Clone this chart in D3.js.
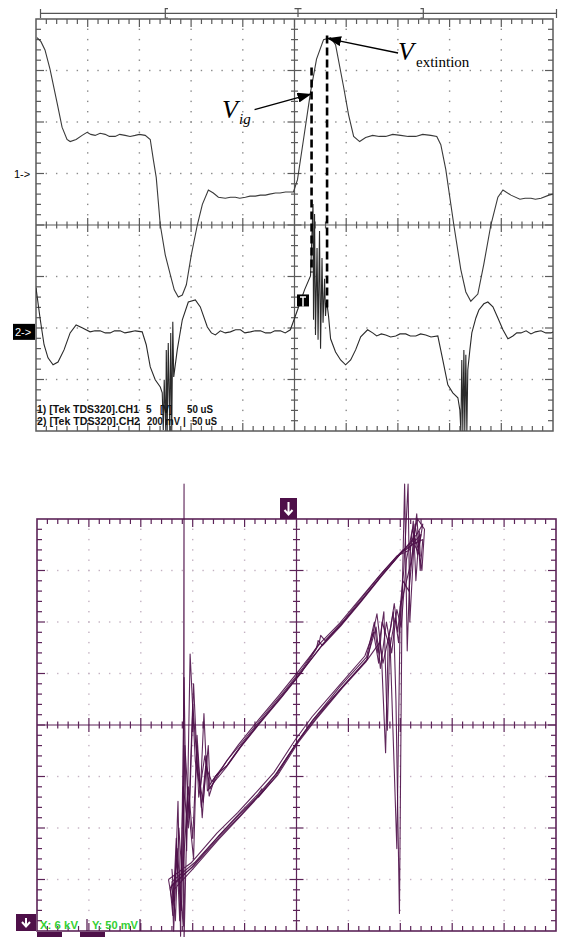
<!DOCTYPE html>
<html><head><meta charset="utf-8">
<script src="https://cdn.jsdelivr.net/npm/d3@7"></script>
<style>body{margin:0;background:#fff;}svg{display:block;}</style>
</head><body>
<svg id="c" width="563" height="937"></svg>
<script>
// ---------------- DATA ----------------
// Top scope: time in µs (50 µs/div), CH1 in V (5 V/div), CH2 in mV (200 mV/div)
const timeDomain = [0, 500];
const ch1Domain = [-25, 15];
const ch2Domain = [-385, 1215];
const ch1Trace = [[1,13.2],[4.8,12.8],[8.7,12.0],[13.6,10.1],[20.3,6.9],[25.2,4.5],[30,3.3],[33,3.1],[38.8,3.3],[44.6,3.7],[49.4,4.0],[53,3.8],[57.2,3.7],[62,3.9],[66.9,3.8],[71,3.6],[76.6,3.6],[81,3.8],[86.2,3.7],[91,3.6],[95.9,3.7],[100,3.8],[105.6,3.7],[110.5,3.3],[113.4,1.4],[116.3,-0.4],[120.2,-5.0],[125,-7.9],[129.8,-9.8],[133.7,-11.3],[137.6,-12.0],[141.5,-11.8],[145.4,-10.8],[150.2,-7.9],[156,-5.0],[160.9,-3.0],[166.7,-1.6],[171.5,-1.9],[176.4,-2.3],[183.1,-2.4],[188,-2.3],[192.8,-2.3],[197,-2.4],[202.5,-2.3],[207,-2.2],[212.2,-2.2],[217,-2.1],[221.9,-2.1],[226,-2.0],[231.6,-1.9],[236,-1.9],[241.3,-1.8],[249,-1.8],[252.9,-0.6],[258.7,3.3],[265.5,7.9],[271.3,11.1],[278.1,13.0],[284.9,13.2],[289.7,12.5],[297.5,8.4],[302.3,5.7],[307.2,3.6],[313,3.1],[318.8,3.5],[325.6,3.7],[332,3.6],[338.2,3.6],[345,3.8],[352.7,3.7],[360,3.6],[367.3,3.6],[374,3.8],[381.8,3.7],[387.6,3.6],[391.5,2.8],[396.3,0.4],[404.1,-5.0],[410.8,-9.3],[415.7,-11.5],[420.5,-12.4],[427.3,-11.7],[433.1,-8.8],[439.9,-5.0],[446.7,-2.3],[451.6,-1.6],[459.3,-2.1],[468,-2.5],[473,-2.4],[478.7,-2.4],[483,-2.5],[488.4,-2.4],[496.1,-2.1],[500,-2.0]];
const ch2Trace = [[0,171],[3.9,54],[7.8,-50],[11.6,-101],[16.5,-128],[21.3,-117],[27.1,-70],[33,-4],[38.8,27],[44.6,16],[52.3,0],[57,4],[62,4],[67,-4],[71.7,-4],[76,4],[81.4,4],[86,-4],[91.1,0],[96,4],[102.7,0],[106.6,-50],[110.5,-136],[115.3,-186],[120.2,-214],[122.1,-237],[123.1,-381],[124.0,-186],[125.5,-384],[126.0,-70],[126.9,-384],[127.9,-43],[129.4,-384],[130.3,-4],[131.3,-384],[132.3,39],[133.2,-175],[134.7,-128],[136.6,-70],[141.5,47],[147.3,116],[154.1,124],[158.9,97],[165.7,19],[169.6,-4],[173.5,-12],[178.3,4],[183,-4],[188,0],[193,8],[197.7,8],[202,-4],[207.4,0],[212,4],[217.1,4],[222,-4],[226.7,-4],[231,4],[236.4,4],[241,-4],[246,8],[252.9,85],[259.7,163],[265.5,217],[267.9,497],[268.4,47],[269.4,458],[270.3,-12],[271.8,326],[272.8,-31],[274.2,392],[275.2,-66],[276.6,287],[277.6,35],[279.1,206],[280.0,62],[281.0,124],[282.9,62],[284.9,-27],[289.7,-78],[294.6,-109],[299.4,-128],[304.3,-109],[309.1,-70],[314.0,-19],[320.7,8],[325.6,-4],[329.5,-16],[334,-8],[338.2,-12],[343,-20],[347.9,-16],[352,-8],[357.6,-8],[362,-16],[367.3,-16],[372,-8],[376.9,-12],[382,-20],[388.6,-16],[393.4,-109],[398.3,-206],[403.1,-237],[408.0,-256],[409.9,-303],[410.9,-384],[411.8,-109],[412.8,-384],[413.8,-70],[414.7,-384],[415.7,-89],[416.7,-384],[417.6,-148],[419.6,-70],[421.5,-4],[425.4,54],[428.3,85],[433.1,109],[437.0,116],[441.9,97],[446.7,54],[451.6,8],[456.4,-27],[461.2,-16],[465,-4],[469.0,-4],[474,4],[478.7,-8],[483,0],[488.4,4],[493,-4],[498.1,-4],[500,0]];
// annotation: ignition and extinction instants (µs) and CH1 levels (V)
const igTime = 266.5, extTime = 281.5;
const igSpan = [10.3, -9.6], extSpan = [13.4, -13.0];
const legendTop = ["1) [Tek TDS320].CH1", "5", "[V]", "50 uS", "2) [Tek TDS320].CH2", "200 mV", "|", "50 uS"];

// Bottom XY scope: X in kV (6 kV/div), Y in mV (50 mV/div)
const xyXDomain = [-30, 30];
const xyYDomain = [-200, 200];
const loopA = [[-14.5,-156],[-11.9,-137],[-8.8,-108],[-6.5,-88],[-4.2,-67],[-3.9,-64],[-4.4,-70],[-2.4,-50],[0,-18],[2.0,4],[5.1,35],[8.2,64],[9.3,108],[9.8,72],[10.3,-27],[10.6,82],[11.2,110],[11.5,23],[11.9,-183],[12.2,120],[12.5,234],[12.8,72],[13.2,174],[13.5,198],[13.8,140],[14.2,188],[14.3,164],[13.4,179],[12.0,166],[9.7,143],[7.4,119],[5.1,96],[3.0,77],[2.5,82],[2.3,74],[0.5,50],[-1.8,26],[-4.2,2],[-6.5,-22],[-8.2,-42],[-9.1,-51],[-10.3,-64],[-10.7,11],[-11.1,-64],[-11.7,-35],[-12.3,69],[-12.7,-122],[-13.0,46],[-13.4,-205],[-13.7,-74],[-14.1,-171],[-14.5,-156]];
const loopB = [[-14.2,-160],[-12.0,-140],[-9.0,-111],[-6.2,-86],[-4.0,-66],[-2.2,-49],[0.2,-17],[2.3,6],[5.3,36],[8.0,61],[9.6,80],[10.0,60],[10.9,95],[11.3,118],[11.7,90],[12.4,150],[12.9,234],[13.1,100],[13.7,195],[14.5,150],[14.8,190],[14.0,200],[13.1,170],[11.6,164],[9.5,144],[7.2,121],[5.0,99],[2.8,80],[0.3,53],[-2.0,29],[-4.4,5],[-6.7,-19],[-8.5,-40],[-9.8,-55],[-10.5,-40],[-11.0,-80],[-11.5,-20],[-12.0,-110],[-12.5,-60],[-13.2,-150],[-13.6,-100],[-14.0,-190],[-14.4,-140],[-14.2,-160]];
const loopC = [[-14.8,-150],[-12.2,-134],[-9.2,-105],[-6.8,-85],[-4.5,-64],[-2.6,-46],[-0.2,-15],[1.8,8],[4.9,38],[7.9,67],[8.9,90],[9.5,60],[9.9,100],[10.8,75],[11.4,104],[11.8,80],[12.3,140],[13.0,130],[13.6,185],[14.0,165],[14.4,185],[13.0,172],[12.2,168],[9.9,146],[7.6,122],[5.3,99],[3.2,80],[0.7,53],[-1.6,29],[-4.0,5],[-6.3,-19],[-8.0,-39],[-9.4,-50],[-10.1,-69],[-10.4,-30],[-10.9,-90],[-11.5,-10],[-11.9,-130],[-12.6,-70],[-13.0,-210],[-13.0,234],[-13.1,-195],[-13.8,-120],[-14.3,-175],[-14.8,-150]];
const loopD = [[-14.4,-152],[-11.7,-133],[-8.6,-104],[-6.4,-84],[-4.3,-66],[-4.0,-62],[-4.6,-69],[-2.3,-47],[0.1,-16],[2.1,7],[5.0,37],[8.1,66],[9.0,100],[9.4,70],[10.1,110],[10.5,-5],[10.8,85],[11.6,-120],[12.0,115],[13.3,160],[13.9,205],[14.3,150],[14.6,180],[13.6,176],[12.4,170],[12.3,170],[10.0,149],[7.7,125],[5.4,101],[3.3,82],[2.8,87],[2.6,79],[0.8,56],[-1.5,32],[-3.9,8],[-6.2,-16],[-8.0,-34],[-8.9,-46],[-10.0,-62],[-10.6,-30],[-11.3,-70],[-11.9,40],[-12.4,-90],[-12.9,-20],[-13.3,-180],[-13.9,-130],[-14.2,-200],[-14.4,-152]];
const loopE = [[-14.6,-158],[-12.1,-138],[-9.0,-108],[-6.6,-87],[-4.3,-68],[-2.5,-49],[-0.1,-19],[1.9,5],[5.0,34],[8.1,63],[9.2,95],[9.7,55],[10.4,100],[11.0,70],[11.6,112],[12.1,95],[12.7,160],[13.4,190],[14.1,170],[14.6,195],[13.9,185],[12.6,172],[12.1,167],[9.8,145],[7.5,121],[5.2,98],[3.1,79],[0.6,52],[-1.7,28],[-4.1,4],[-6.4,-20],[-8.1,-40],[-9.2,-48],[-10.0,-58],[-10.2,-20],[-10.8,-75],[-11.4,-45],[-12.0,20],[-12.5,-100],[-13.1,-60],[-13.5,-190],[-13.9,-110],[-14.3,-185],[-14.6,-158]];
const legendXY = ["X: 6 kV", "Y: 50 mV"];

// ---------------- LAYOUT ----------------
const svg = d3.select("#c");
const topBox = {x:36, y:19, w:517, h:412};
const botBox = {x:37, y:519, w:519, h:412};
const PURPLE = "#4e1049";

function scopeFrame(g, box, color, dotColor, sw){
  const L=box.x, T=box.y, W=box.w, H=box.h, nx=10, ny=8;
  const sx=d3.scaleLinear().domain([0,nx]).range([L,L+W]);
  const sy=d3.scaleLinear().domain([0,ny]).range([T,T+H]);
  const dots=[];
  for(let i=1;i<nx;i++){ if(i===5) continue; for(let k=1;k<ny*5;k++) dots.push([sx(i), sy(k/5)]); }
  for(let j=1;j<ny;j++){ if(j===4) continue; for(let k=1;k<nx*5;k++) dots.push([sx(k/5), sy(j)]); }
  g.append("g").selectAll("rect").data(dots).join("rect")
    .attr("x",d=>d[0]-0.7).attr("y",d=>d[1]-0.7).attr("width",1.4).attr("height",1.4).attr("fill",dotColor);
  const segs=[];
  for(let k=1;k<nx*5;k++){ const x=sx(k/5), maj=k%5===0, len=maj?8:5, cl=maj?7:3.5, c=sy(4);
    segs.push([x,T,x,T+len],[x,T+H,x,T+H-len],[x,c-cl,x,c+cl]); }
  for(let k=1;k<ny*5;k++){ const y=sy(k/5), maj=k%5===0, len=maj?8:5, cl=maj?7:3.5, c=sx(5);
    segs.push([L,y,L+len,y],[L+W,y,L+W-len,y],[c-cl,y,c+cl,y]); }
  segs.push([sx(5),T,sx(5),T+H],[L,sy(4),L+W,sy(4)]);
  g.append("g").selectAll("line").data(segs).join("line")
    .attr("x1",d=>d[0]).attr("y1",d=>d[1]).attr("x2",d=>d[2]).attr("y2",d=>d[3])
    .attr("stroke",color).attr("stroke-width",1.2);
  g.append("rect").attr("x",L).attr("y",T).attr("width",W).attr("height",H)
    .attr("fill","none").attr("stroke",color).attr("stroke-width",sw);
}

// ---------------- TOP SCOPE ----------------
const gt = svg.append("g");
const hdr = gt.append("g").attr("stroke","#555").attr("stroke-width",1.2).attr("fill","none");
hdr.append("path").attr("d","M40.5,13.3H556.5M40.5,9V18M556.5,9V18");
hdr.append("path").attr("d","M168,8.7H165.3V18H168");
hdr.append("path").attr("d","M294.5,8.7H301.5M298,8.7V17");
hdr.append("path").attr("d","M420.5,8.7H423.3V18H420.5");

scopeFrame(gt, topBox, "#5a5a5a", "#8a8a8a", 1.5);

const xT = d3.scaleLinear().domain(timeDomain).range([topBox.x, topBox.x+topBox.w]);
const y1 = d3.scaleLinear().domain(ch1Domain).range([topBox.y+topBox.h, topBox.y]);
const y2 = d3.scaleLinear().domain(ch2Domain).range([topBox.y+topBox.h, topBox.y]);

svg.append("defs").html(`
  <clipPath id="clipTop"><rect x="${topBox.x}" y="${topBox.y}" width="${topBox.w}" height="${topBox.h}"/></clipPath>
  <marker id="ah" viewBox="0 0 14 10" refX="13" refY="5" markerWidth="14" markerHeight="10" markerUnits="userSpaceOnUse" orient="auto">
    <path d="M0,0L14,5L0,10z" fill="#000"/></marker>`);

const traces = gt.append("g").attr("clip-path","url(#clipTop)");
traces.append("path").datum(ch1Trace)
  .attr("d", d3.line().x(d=>xT(d[0])).y(d=>y1(d[1])))
  .attr("fill","none").attr("stroke","#3a3a3a").attr("stroke-width",1.1);
traces.append("path").datum(ch2Trace)
  .attr("d", d3.line().x(d=>xT(d[0])).y(d=>y2(d[1])))
  .attr("fill","none").attr("stroke","#2a2a2a").attr("stroke-width",1.1);

traces.selectAll("line.dash").data([[igTime, igSpan],[extTime, extSpan]]).join("line")
  .attr("x1",d=>xT(d[0])).attr("x2",d=>xT(d[0]))
  .attr("y1",d=>y1(d[1][0])).attr("y2",d=>y1(d[1][1]))
  .attr("stroke","#000").attr("stroke-width",2.6).attr("stroke-dasharray","8,4");

// trigger marker
const ty = y2(122);
gt.append("rect").attr("x",xT(0)+261).attr("y",ty-6).attr("width",12).attr("height",12).attr("fill","#000");
gt.append("path").attr("d",`M${xT(0)+264},${ty-3.5}H${xT(0)+270}M${xT(0)+267},${ty-3.5}V${ty+6}`)
  .attr("stroke","#fff").attr("stroke-width",1.5);

// channel reference markers
gt.append("text").attr("x",14).attr("y",y1(0)+4).text("1->")
  .attr("font-family","Liberation Sans, Arial").attr("font-size",11).attr("fill","#000");
gt.append("rect").attr("x",13).attr("y",y2(0)-8).attr("width",22).attr("height",16).attr("fill","#000");
gt.append("text").attr("x",15).attr("y",y2(0)+4).text("2->")
  .attr("font-family","Liberation Sans, Arial").attr("font-size",11).attr("fill","#fff");

// arrows & labels
gt.append("line").attr("x1",xT(igTime)-57).attr("y1",y1(6.2)).attr("x2",xT(igTime)-1).attr("y2",y1(7.7))
  .attr("stroke","#000").attr("stroke-width",1.3).attr("marker-end","url(#ah)");
gt.append("line").attr("x1",xT(extTime)+71).attr("y1",y1(11.7)).attr("x2",xT(extTime)+1).attr("y2",y1(13.1))
  .attr("stroke","#000").attr("stroke-width",1.3).attr("marker-end","url(#ah)");
const serif = "Liberation Serif, Times New Roman, serif";
gt.append("text").attr("x",222).attr("y",118).text("V").attr("font-family",serif).attr("font-style","italic").attr("font-size",26);
gt.append("text").attr("x",239).attr("y",124).text("ig").attr("font-family",serif).attr("font-style","italic").attr("font-size",15);
gt.append("text").attr("x",398).attr("y",60).text("V").attr("font-family",serif).attr("font-style","italic").attr("font-size",26);
gt.append("text").attr("x",416).attr("y",67).text("extintion").attr("font-family",serif).attr("font-size",15);

const lt = gt.append("g").attr("font-family","Liberation Sans, Arial").attr("font-size",10).attr("font-weight","bold").attr("fill","#111");
const ltPos = [[37,413,102],[146,413,0],[160,413,12],[187,413,26],[37,425,103],[147,425,33],[183,425,0],[192,425,25]];
legendTop.forEach((s,i)=>{
  const t = lt.append("text").attr("x",ltPos[i][0]).attr("y",ltPos[i][1]).text(s);
  if(ltPos[i][2]>0) t.attr("textLength",ltPos[i][2]).attr("lengthAdjust","spacingAndGlyphs");
});

// ---------------- BOTTOM XY SCOPE ----------------
const gb = svg.append("g");
scopeFrame(gb, botBox, "#5c2358", "#c4b2c2", 1.6);
const xX = d3.scaleLinear().domain(xyXDomain).range([botBox.x, botBox.x+botBox.w]);
const yY = d3.scaleLinear().domain(xyYDomain).range([botBox.y+botBox.h, botBox.y]);
const loopLine = d3.line().x(d=>xX(d[0])).y(d=>yY(d[1]));
gb.append("g").selectAll("path").data([loopA, loopB, loopC, loopD, loopE]).join("path")
  .attr("d", loopLine).attr("fill","none").attr("stroke",PURPLE)
  .attr("stroke-width",1.1).attr("stroke-opacity",0.9).attr("stroke-linejoin","round");

function arrowBox(x, y, w, h){
  gb.append("rect").attr("x",x).attr("y",y).attr("width",w).attr("height",h).attr("fill",PURPLE);
  const cx = x + w/2;
  gb.append("path").attr("d",`M${cx},${y+4}V${y+h-5}M${cx-4},${y+h-9}L${cx},${y+h-4.5}L${cx+4},${y+h-9}`)
    .attr("stroke","#fff").attr("stroke-width",2).attr("fill","none");
}
arrowBox(280, 498, 17, 21);
arrowBox(16, 914, 20, 17);

const lg = gb.append("g").attr("font-family","Liberation Sans, Arial").attr("font-size",10.5).attr("font-weight","bold");
lg.append("text").attr("x",40).attr("y",929).text(legendXY[0]).attr("fill","#35d035").attr("textLength",38).attr("lengthAdjust","spacingAndGlyphs");
lg.append("text").attr("x",92).attr("y",929).text(legendXY[1]).attr("fill","#35d035").attr("textLength",46).attr("lengthAdjust","spacingAndGlyphs");
gb.append("path").attr("d","M87,919V931M140,919V931").attr("stroke",PURPLE).attr("stroke-width",1.2);
gb.append("rect").attr("x",37).attr("y",932).attr("width",25).attr("height",5).attr("fill",PURPLE);
gb.append("rect").attr("x",80).attr("y",932).attr("width",25).attr("height",5).attr("fill",PURPLE);
</script>
</body></html>
